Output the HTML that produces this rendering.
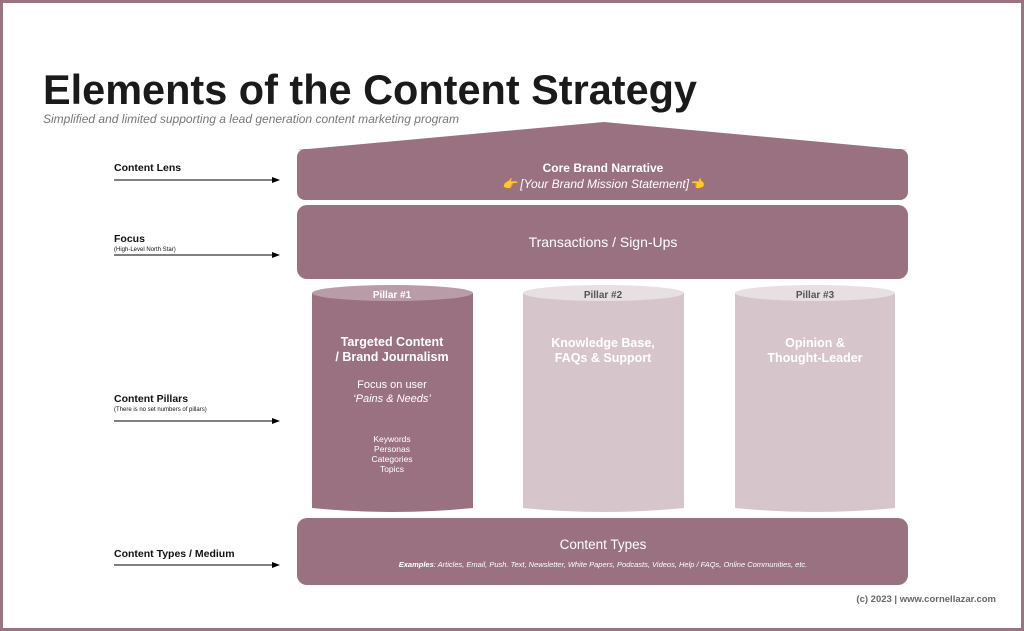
<!DOCTYPE html>
<html><head><meta charset="utf-8"><style>
html,body{margin:0;padding:0;background:#fff}
svg{display:block}
</style></head><body>
<svg width="1024" height="631" viewBox="0 0 1024 631" xmlns="http://www.w3.org/2000/svg" font-family="Liberation Sans, sans-serif">
<rect x="1.5" y="1.5" width="1021" height="628" fill="#fff" stroke="#9a7483" stroke-width="3"/>
<text x="43" y="104" font-size="42" font-weight="bold" fill="#1a1a1a" textLength="654" lengthAdjust="spacingAndGlyphs">Elements of the Content Strategy</text>
<text x="43" y="123" font-size="11.5" font-style="italic" fill="#777" textLength="416" lengthAdjust="spacingAndGlyphs">Simplified and limited supporting a lead generation content marketing program</text>
<path d="M297 150 L604 122 L908 150 Z" fill="#9a7180"/>
<rect x="297" y="149" width="611" height="51" rx="8" fill="#9a7180"/>
<text x="603" y="172" font-size="12" font-weight="bold" fill="#fff" text-anchor="middle">Core Brand Narrative</text>
<text x="603" y="188" font-size="12" font-style="italic" fill="#fff" text-anchor="middle"><tspan fill="#f2b01e">👉</tspan> [Your Brand Mission Statement]<tspan fill="#f2b01e">👈</tspan></text>
<rect x="297" y="205" width="611" height="74" rx="10" fill="#9a7180"/>
<text x="603" y="247" font-size="14" fill="#fff" text-anchor="middle">Transactions / Sign-Ups</text>
<path d="M312 293 V508 Q392.5 516 473 508 V293 Z" fill="#9a7180"/>
<ellipse cx="392.5" cy="293" rx="80.5" ry="8" fill="#b99ca8"/>
<path d="M523 293 V508 Q603.5 516 684 508 V293 Z" fill="#d6c6cc"/>
<ellipse cx="603.5" cy="293" rx="80.5" ry="8" fill="#e8dfe3"/>
<path d="M735 293 V508 Q815 516 895 508 V293 Z" fill="#d6c6cc"/>
<ellipse cx="815" cy="293" rx="80" ry="8" fill="#e8dfe3"/>
<g font-size="10" font-weight="bold" text-anchor="middle">
<text x="392" y="298" fill="#fff">Pillar #1</text>
<text x="603" y="298" fill="#555">Pillar #2</text>
<text x="815" y="298" fill="#555">Pillar #3</text>
</g>
<g fill="#fff" text-anchor="middle">
<text x="392" y="346" font-size="12.5" font-weight="bold">Targeted Content</text>
<text x="392" y="361" font-size="12.5" font-weight="bold">/ Brand Journalism</text>
<text x="392" y="388" font-size="11">Focus on user</text>
<text x="392" y="402" font-size="11" font-style="italic">‘Pains &amp; Needs’</text>
<g font-size="8.5"><text x="392" y="442">Keywords</text><text x="392" y="452">Personas</text><text x="392" y="462">Categories</text><text x="392" y="472">Topics</text></g>
<text x="603" y="347" font-size="12.5" font-weight="bold">Knowledge Base,</text>
<text x="603" y="362" font-size="12.5" font-weight="bold">FAQs &amp; Support</text>
<text x="815" y="347" font-size="12.5" font-weight="bold">Opinion &amp;</text>
<text x="815" y="362" font-size="12.5" font-weight="bold">Thought-Leader</text>
</g>
<rect x="297" y="518" width="611" height="67" rx="10" fill="#9a7180"/>
<text x="603" y="549" font-size="13.5" fill="#fff" text-anchor="middle">Content Types</text>
<text x="603" y="567" font-size="7.5" font-style="italic" fill="#fff" text-anchor="middle"><tspan font-weight="bold">Examples</tspan>: Articles, Email, Push. Text, Newsletter, White Papers, Podcasts, Videos, Help / FAQs, Online Communities, etc.</text>
<defs><marker id="a" markerWidth="8" markerHeight="8" refX="7" refY="4" orient="auto" markerUnits="userSpaceOnUse"><path d="M0 1 L8 4 L0 7 Z" fill="#000"/></marker></defs>
<g font-weight="bold" font-size="10.5" fill="#111">
<text x="114" y="171">Content Lens</text>
<text x="114" y="242">Focus</text>
<text x="114" y="402">Content Pillars</text>
<text x="114" y="557">Content Types / Medium</text>
</g>
<text x="114" y="251" font-size="6" fill="#111">(High-Level North Star)</text>
<text x="114" y="411" font-size="6" fill="#111">(There is no set numbers of pillars)</text>
<g stroke="#000" stroke-width="1" marker-end="url(#a)">
<line x1="114" y1="180" x2="279" y2="180"/>
<line x1="114" y1="255" x2="279" y2="255"/>
<line x1="114" y1="421" x2="279" y2="421"/>
<line x1="114" y1="565" x2="279" y2="565"/>
</g>
<text x="996" y="602" font-size="9.5" font-weight="bold" fill="#666" text-anchor="end">(c) 2023 | www.cornellazar.com</text>
</svg>
</body></html>
